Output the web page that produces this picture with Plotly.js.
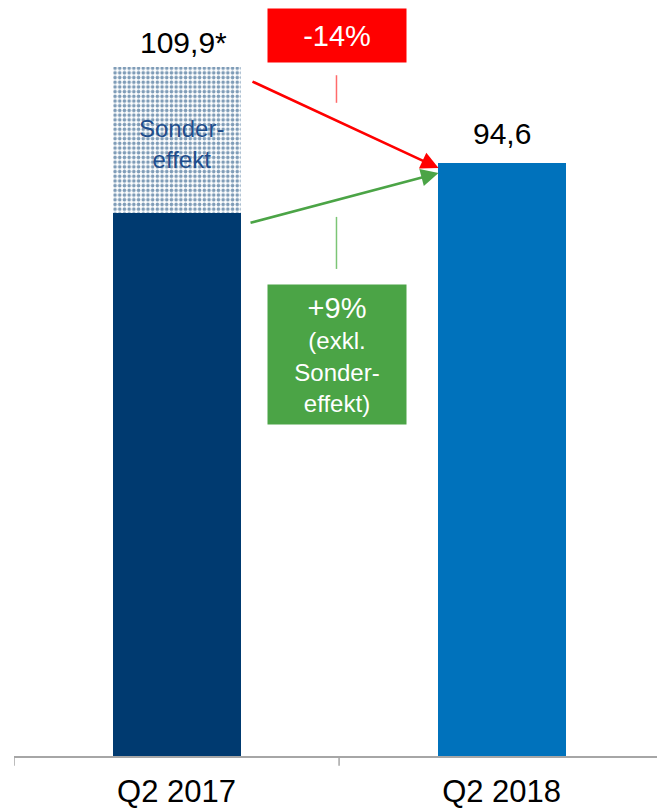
<!DOCTYPE html>
<html><head><meta charset="utf-8">
<script src="https://cdn.plot.ly/plotly-3.0.1.min.js"></script>
<style>html,body{margin:0;padding:0;background:#fff}#chart{width:657px;height:808px}</style>
</head><body><div id="chart"></div>
<script>
const categories = ['Q2 2017', 'Q2 2018'];
const baseValues = [86.6, 94.6];
const specialEffect = [23.3, 0];
const totalLabels = ['109,9*', '94,6'];
const totals = [109.9, 94.6];
const changeTotal = '-14%';
const changeExcl = '<span style="font-size:29px">+9%</span><br>(exkl.<br>Sonder-<br>effekt)';
const specialLabel = 'Sonder-<br>effekt';

const NAVY = '#003A70', BLUE = '#0072BC', RED = '#FF0000', GREEN = '#4BA446';
const FONT = 'Liberation Sans, Arial, sans-serif';

const BW = 0.394;
const traces = [
  {type:'bar', x:[0,1], y:baseValues, width:BW,
   marker:{color:[NAVY, BLUE]}, hoverinfo:'skip'},
  {type:'bar', x:[0,1], y:specialEffect, width:BW,
   marker:{color:NAVY, pattern:{shape:'.', fgcolor:NAVY, bgcolor:'#ffffff', size:4.7, solidity:0.45, fillmode:'overlay'}},
   hoverinfo:'skip'}
];

const bh = BW/2;
const annotations = [
  {x:0, y:totals[0], text:totalLabels[0], showarrow:false, yanchor:'middle', yshift:25, xshift:7, font:{size:30,color:'#000',family:FONT}},
  {x:1, y:totals[1], text:totalLabels[1], showarrow:false, yanchor:'middle', yshift:29, font:{size:30,color:'#000',family:FONT}},
  {x:0, y:baseValues[0] + specialEffect[0]/2, text:specialLabel, showarrow:false, yshift:-4, xshift:5, font:{size:24,color:'#1F4E8C',family:FONT}},
  // arrows
  {x:1-bh+0.003, y:93.8, ax:0.229, ay:107.7, axref:'x', ayref:'y', xref:'x', yref:'y', text:'', showarrow:true,
   arrowhead:2, arrowsize:1.35, arrowwidth:2.6, arrowcolor:RED, standoff:0},
  {x:1-bh+0.003, y:93.0, ax:0.223, ay:85.0, axref:'x', ayref:'y', xref:'x', yref:'y', text:'', showarrow:true,
   arrowhead:2, arrowsize:1.35, arrowwidth:2.6, arrowcolor:GREEN, standoff:0},
  // boxes
  {x:0.494, y:114.95, text:changeTotal, showarrow:false, bgcolor:RED, width:138, height:53, borderpad:0,
   font:{size:29,color:'#fff',family:FONT}, valign:'middle'},
  {x:0.494, y:64.05, text:changeExcl, showarrow:false, bgcolor:GREEN, width:138, height:139, borderpad:0,
   font:{size:24,color:'#fff',family:FONT}, valign:'middle'}
];

const shapes = [
  {type:'line', xref:'x', yref:'y', x0:0.492, x1:0.492, y0:104.2, y1:108.6, line:{color:'#FF6B6B', width:1.5}},
  {type:'line', xref:'x', yref:'y', x0:0.492, x1:0.492, y0:77.7, y1:86.0, line:{color:'#7CC576', width:1.5}}
];
[-0.5, 0.5, 1.5].forEach(v => shapes.push({type:'line', xref:'x', yref:'paper', x0:v, x1:v, y0:0, y1:-0.013, line:{color:'#A6A6A6', width:1.5}}));

const layout = {
  width:657, height:808, barmode:'stack', showlegend:false,
  paper_bgcolor:'#fff', plot_bgcolor:'#fff',
  margin:{l:14, r:0, t:0, b:52},
  font:{family:FONT},
  xaxis:{type:'linear', range:[-0.5, 1.478], tickmode:'array', tickvals:[0,1], ticktext:categories,
    showline:true, linecolor:'#A6A6A6', linewidth:1.5, ticks:'', showgrid:false, zeroline:false,
    ticklabelstandoff:7,
    tickfont:{size:31,color:'#000',family:FONT}, fixedrange:true},
  yaxis:{range:[0,120.6], visible:false, showgrid:false, zeroline:false},
  annotations, shapes
};

Plotly.newPlot('chart', traces, layout, {displayModeBar:false, staticPlot:true});
</script></body></html>
